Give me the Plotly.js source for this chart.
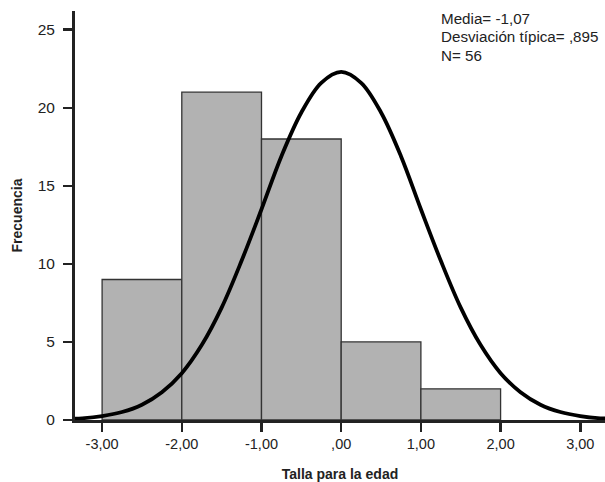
<!DOCTYPE html>
<html>
<head>
<meta charset="utf-8">
<script src="https://cdn.plot.ly/plotly-3.0.1.min.js"></script>
<style>html,body{margin:0;padding:0;background:#fff;}#chart{width:605px;height:482px;}</style>
</head>
<body>
<div id="chart"></div>
<script>
// Histogram bins (centres) and frequencies
const binCenters = [-2.5, -1.5, -0.5, 0.5, 1.5];
const frequencies = [9, 21, 18, 5, 2];

// Normal curve
const curveX = [-3.34, -3.25, -3.0, -2.75, -2.5, -2.25, -2.0, -1.75, -1.5, -1.25, -1.0, -0.75, -0.5, -0.25, 0, 0.25, 0.5, 0.75, 1.0, 1.25, 1.5, 1.75, 2.0, 2.25, 2.5, 2.75, 3.0, 3.25, 3.31];
const curveY = [0.09, 0.11, 0.25, 0.51, 0.98, 1.78, 3.0, 4.8, 7.2, 10.2, 13.5, 16.9, 19.7, 21.6, 22.3, 21.6, 19.7, 16.9, 13.5, 10.2, 7.2, 4.8, 3.0, 1.78, 0.98, 0.51, 0.25, 0.11, 0.1];

const xTickVals = [-3, -2, -1, 0, 1, 2, 3];
const xTickText = ["-3,00", "-2,00", "-1,00", ",00", "1,00", "2,00", "3,00"];
const yTickVals = [0, 5, 10, 15, 20, 25];

const statsLines = ["Media= -1,07", "Desviación típica= ,895", "N= 56"];

const font = "Liberation Sans, Arial, Helvetica, sans-serif";
const ink = "#222222";

const traces = [
  {
    type: "bar",
    x: binCenters,
    y: frequencies,
    width: 1,
    marker: {color: "#b2b2b2", line: {color: "#333333", width: 1.3}},
    hoverinfo: "none"
  },
  {
    type: "scatter",
    mode: "lines",
    x: curveX,
    y: curveY,
    line: {color: "#000000", width: 3.8, shape: "spline", smoothing: 1},
    hoverinfo: "none"
  }
];

// plot area: top 11px, bottom 420px (409px tall)
const linePix = [18.6, 37, 55.4];
const annotations = statsLines.map((t, i) => ({
  xref: "paper", yref: "paper",
  x: (439 - 75) / 530, y: (420 - linePix[i]) / 409,
  xanchor: "left", yanchor: "middle",
  align: "left",
  showarrow: false,
  text: t,
  font: {family: font, size: 15.2, color: ink}
}));

const layout = {
  width: 605,
  height: 482,
  margin: {l: 75, r: 0, t: 11, b: 62, pad: 0},
  paper_bgcolor: "#ffffff",
  plot_bgcolor: "#ffffff",
  showlegend: false,
  bargap: 0,
  font: {family: font, size: 14, color: ink},
  xaxis: {
    range: [-3.34, 3.31],
    tickvals: xTickVals,
    ticktext: xTickText,
    ticks: "outside",
    ticklen: 9,
    tickwidth: 2.5,
    tickcolor: ink,
    showline: true,
    linewidth: 3,
    linecolor: ink,
    showgrid: false,
    zeroline: false,
    tickfont: {family: font, size: 14.5, color: ink},
    title: {text: "<b>Talla para la edad</b>", font: {family: font, size: 14, color: ink}, standoff: 22}
  },
  yaxis: {
    range: [0, 26.2],
    tickvals: yTickVals,
    ticks: "outside",
    ticklen: 9,
    tickwidth: 2.5,
    tickcolor: ink,
    ticklabelstandoff: 5,
    showline: true,
    linewidth: 3,
    linecolor: ink,
    showgrid: false,
    zeroline: false,
    tickfont: {family: font, size: 15.5, color: ink},
    title: {text: "<b>Frecuencia</b>", font: {family: font, size: 14, color: ink}, standoff: 12}
  },
  annotations: annotations
};

Plotly.newPlot("chart", traces, layout, {displayModeBar: false, staticPlot: true});
</script>
</body>
</html>
